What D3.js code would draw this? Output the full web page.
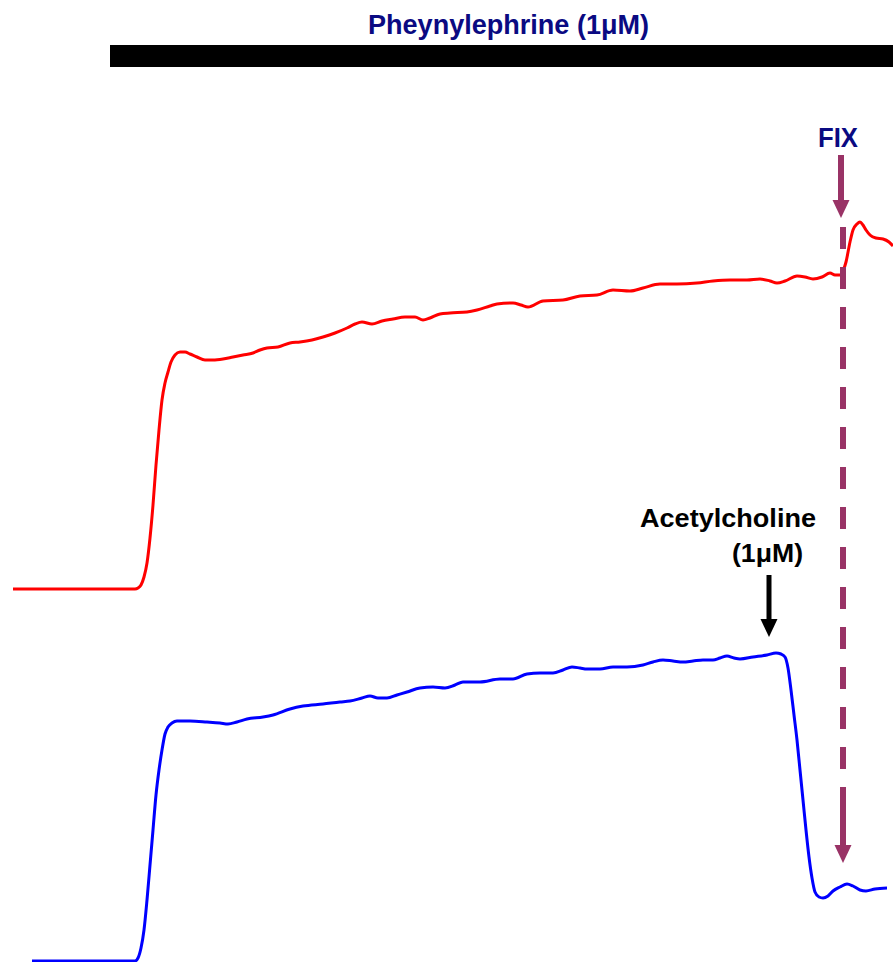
<!DOCTYPE html>
<html>
<head>
<meta charset="utf-8">
<script src="https://cdn.jsdelivr.net/npm/d3@7"></script>
<style>
  html, body { margin: 0; padding: 0; background: #fff; }
  svg { display: block; }
  text { font-family: Arial, "Liberation Sans", Helvetica, sans-serif; font-weight: bold; }
</style>
</head>
<body>
<svg id="chart" width="893" height="962"></svg>
<script>
// Isometric tension recordings (time in s, tension in mN above resting baseline)

// Upper trace: control ring, phenylephrine then fixative
const controlTime = [1.3, 6.0, 13.5, 13.8, 14.1, 14.4, 14.7, 15.0, 15.3, 15.6, 15.9, 16.2, 16.5, 16.8, 17.1, 17.5, 18.0, 18.5, 19.0, 19.7, 20.5, 21.3, 22.3, 23.3, 24.3, 25.3, 26.0, 26.7, 27.8, 29.0, 30.0, 31.2, 32.3, 33.5, 34.7, 35.5, 36.2, 37.2, 38.2, 39.3, 40.5, 41.5, 42.3, 43.0, 44.0, 45.0, 46.7, 47.7, 49.0, 49.7, 51.3, 52.1, 52.8, 54.3, 56.3, 58.0, 59.7, 61.3, 63.0, 64.3, 66.0, 67.7, 69.7, 71.3, 73.0, 74.7, 76.0, 77.0, 77.7, 78.5, 79.7, 80.5, 81.3, 82.2, 83.0, 83.5, 84.0, 84.3, 84.6, 85.0, 85.3, 85.7, 86.0, 86.3, 86.6, 87.0, 87.6, 88.3, 88.9, 89.3];
const controlTension = [0, 0, 0, 0.1, 0.4, 1.2, 2.6, 5.1, 8.4, 12.4, 15.9, 18.9, 20.6, 21.7, 22.7, 23.4, 23.7, 23.7, 23.5, 23.2, 22.9, 22.9, 23.0, 23.2, 23.4, 23.6, 23.9, 24.1, 24.2, 24.6, 24.7, 24.9, 25.2, 25.6, 26.1, 26.5, 26.7, 26.5, 26.8, 27.0, 27.2, 27.2, 26.9, 27.1, 27.5, 27.6, 27.7, 27.9, 28.3, 28.5, 28.6, 28.4, 28.2, 28.8, 28.9, 29.3, 29.4, 29.9, 29.8, 30.1, 30.5, 30.5, 30.6, 30.8, 30.9, 30.9, 31.0, 30.8, 30.6, 30.8, 31.3, 31.2, 31.0, 31.2, 31.6, 31.4, 31.4, 31.8, 32.7, 34.7, 35.9, 36.5, 36.7, 36.4, 35.9, 35.4, 35.1, 35.0, 34.7, 34.3];

// Lower trace: phenylephrine, then acetylcholine relaxation
const achTime = [3.2, 13.5, 13.8, 14.1, 14.4, 14.7, 15.0, 15.3, 15.6, 15.9, 16.2, 16.5, 16.8, 17.2, 17.7, 19.0, 20.7, 22.0, 22.8, 23.7, 24.7, 26.3, 27.3, 29.0, 30.3, 32.3, 34.0, 35.0, 36.2, 37.0, 37.8, 38.7, 39.7, 40.7, 42.0, 43.3, 44.5, 45.5, 46.3, 48.0, 50.0, 51.3, 52.7, 54.0, 55.3, 56.3, 57.2, 58.0, 58.7, 60.0, 61.3, 62.7, 64.3, 65.3, 66.3, 67.3, 68.3, 69.3, 70.3, 71.3, 72.0, 72.7, 73.4, 74.0, 75.3, 76.7, 77.6, 78.1, 78.5, 78.8, 79.1, 79.4, 79.7, 80.0, 80.3, 80.6, 80.9, 81.2, 81.5, 81.9, 82.3, 82.8, 83.3, 84.0, 84.7, 85.3, 86.0, 86.6, 87.5, 88.7];
const achTension = [0, 0, 0.3, 1.3, 3.1, 6.1, 9.6, 13.1, 16.6, 19.1, 21.1, 22.7, 23.4, 23.8, 24.0, 24.0, 23.9, 23.8, 23.7, 23.9, 24.2, 24.4, 24.6, 25.2, 25.5, 25.7, 25.9, 26.0, 26.3, 26.5, 26.3, 26.3, 26.6, 26.9, 27.3, 27.4, 27.3, 27.6, 27.9, 27.9, 28.2, 28.2, 28.7, 28.8, 28.8, 29.1, 29.4, 29.3, 29.2, 29.2, 29.4, 29.4, 29.6, 29.9, 30.1, 30.0, 29.9, 30.0, 30.1, 30.1, 30.3, 30.5, 30.3, 30.2, 30.4, 30.6, 30.8, 30.7, 30.4, 29.3, 27.1, 24.6, 22.1, 19.1, 16.1, 13.1, 10.4, 8.3, 6.9, 6.4, 6.3, 6.5, 7.0, 7.4, 7.7, 7.5, 7.1, 7.0, 7.2, 7.3];

// Drug additions
const phenylephrineStart = 11.0;
const phenylephrineLabel = "Pheynylephrine (1\u03bcM)";
const achAddTime = 76.9;
const achLabel = ["Acetylcholine", "(1\u03bcM)"];
const fixTime = 84.1;
const fixLabel = "FIX";

const W = 893, H = 962;
const svg = d3.select("#chart");

const x = d3.scaleLinear().domain([0, 89.3]).range([0, W]);
const yControl = d3.scaleLinear().domain([0, 40]).range([589, 189]);
const yAch = d3.scaleLinear().domain([0, 40]).range([961, 561]);

const navy = "#0a0a82";
const maroon = "#993366";

// Phenylephrine bar and title
svg.append("rect")
  .attr("x", x(phenylephrineStart)).attr("y", 45)
  .attr("width", x(89.3) - x(phenylephrineStart)).attr("height", 22)
  .attr("fill", "#000");
svg.append("text")
  .attr("x", 368).attr("y", 34)
  .attr("font-size", 27)
  .attr("textLength", 281)
  .attr("lengthAdjust", "spacingAndGlyphs")
  .attr("fill", navy)
  .text(phenylephrineLabel);

// Traces
const line = (ys) => d3.line()
  .x(d => x(d[0]))
  .y(d => ys(d[1]))
  .curve(d3.curveMonotoneX);

svg.append("path")
  .datum(d3.zip(controlTime, controlTension))
  .attr("d", line(yControl))
  .attr("fill", "none")
  .attr("stroke", "#ff0000")
  .attr("stroke-width", 3)
  .attr("stroke-linejoin", "round");

svg.append("path")
  .datum(d3.zip(achTime, achTension))
  .attr("d", line(yAch))
  .attr("fill", "none")
  .attr("stroke", "#0000ff")
  .attr("stroke-width", 3)
  .attr("stroke-linejoin", "round");

// Acetylcholine arrow and label
const ax = x(achAddTime);
svg.append("text")
  .attr("x", 640).attr("y", 527)
  .attr("font-size", 26)
  .attr("textLength", 176)
  .attr("lengthAdjust", "spacingAndGlyphs")
  .attr("fill", "#000")
  .text(achLabel[0]);
svg.append("text")
  .attr("x", 732).attr("y", 562)
  .attr("font-size", 26)
  .attr("textLength", 71)
  .attr("lengthAdjust", "spacingAndGlyphs")
  .attr("fill", "#000")
  .text(achLabel[1]);
svg.append("line")
  .attr("x1", ax).attr("x2", ax)
  .attr("y1", 575).attr("y2", 622)
  .attr("stroke", "#000").attr("stroke-width", 5);
svg.append("path")
  .attr("d", `M${ax - 8.5},619 L${ax + 8.5},619 L${ax},637 Z`)
  .attr("fill", "#000");

// Fixation marker: label, arrow, dashed drop line, lower arrow
const fx = x(fixTime);
svg.append("text")
  .attr("x", 818).attr("y", 147)
  .attr("font-size", 27)
  .attr("textLength", 40)
  .attr("lengthAdjust", "spacingAndGlyphs")
  .attr("fill", navy)
  .text(fixLabel);
svg.append("line")
  .attr("x1", fx).attr("x2", fx)
  .attr("y1", 155).attr("y2", 203)
  .attr("stroke", maroon).attr("stroke-width", 6);
svg.append("path")
  .attr("d", `M${fx - 8.5},200 L${fx + 8.5},200 L${fx},218 Z`)
  .attr("fill", maroon);
svg.append("line")
  .attr("x1", fx + 2).attr("x2", fx + 2)
  .attr("y1", 227).attr("y2", 800)
  .attr("stroke", maroon).attr("stroke-width", 6)
  .attr("stroke-dasharray", "22,18");
svg.append("line")
  .attr("x1", fx + 2).attr("x2", fx + 2)
  .attr("y1", 800).attr("y2", 848)
  .attr("stroke", maroon).attr("stroke-width", 6);
svg.append("path")
  .attr("d", `M${fx + 2 - 8.5},845 L${fx + 2 + 8.5},845 L${fx + 2},863 Z`)
  .attr("fill", maroon);
</script>
</body>
</html>
